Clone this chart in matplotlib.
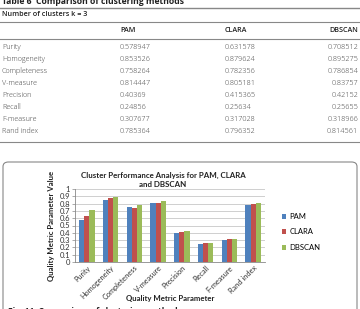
import matplotlib
matplotlib.use("Agg")
import matplotlib.pyplot as plt
import numpy as np
from matplotlib.patches import FancyBboxPatch
from matplotlib.lines import Line2D

# ---- data ----
metrics = ["Purity", "Homogeneity", "Completeness", "V-measure", "Precision",
           "Recall", "F-measure", "Rand index"]
methods = ["PAM", "CLARA", "DBSCAN"]
table_pam = ["0.578947", "0.853526", "0.758264", "0.814447", "0.40369", "0.24856", "0.307677", "0.785364"]
table_clara = ["0.631578", "0.879624", "0.782356", "0.805181", "0.415365", "0.25634", "0.317028", "0.796352"]
table_dbscan = ["0.708512", "0.895275", "0.786854", "0.83757", "0.42152", "0.25655", "0.318966", "0.814561"]
chart_pam = [0.579, 0.854, 0.758, 0.814, 0.404, 0.249, 0.308, 0.785]
chart_clara = [0.632, 0.880, 0.742, 0.805, 0.415, 0.256, 0.317, 0.796]
chart_dbscan = [0.709, 0.895, 0.787, 0.838, 0.422, 0.257, 0.319, 0.815]
yticks = [0, 0.1, 0.2, 0.3, 0.4, 0.5, 0.6, 0.7, 0.8, 0.9, 1]
ytick_labels = ["0", "0.1", "0.2", "0.3", "0.4", "0.5", "0.6", "0.7", "0.8", "0.9", "1"]
colors = ["#4F81BD", "#C0504D", "#9BBB59"]

W, H = 360, 309
fig = plt.figure(figsize=(W / 100, H / 100), dpi=100)

def fy(y):
    return 1 - y / H

def fx(x):
    return x / W

tfont = "Open Sans"
tcol = "#444444"
# ---- table ----
fig.text(fx(2), fy(1), "Table 6  Comparison of clustering methods", fontsize=6.2,
         fontweight="bold", family=tfont, color="#222222", va="center", ha="left")
for yy, lw in [(8, 1.0), (22, 0.8), (39, 0.8), (142, 0.8)]:
    fig.add_artist(Line2D([0, 1], [fy(yy), fy(yy)], transform=fig.transFigure,
                          color="#888888", lw=lw))
fig.text(fx(2), fy(15), "Number of clusters k = 3", fontsize=5.2, family=tfont,
         color="#222222", va="center", ha="left", fontweight="semibold")
hx = [120, 225, 358]
has = ["left", "left", "right"]
for m, x, ha in zip(methods, hx, has):
    fig.text(fx(x), fy(31), m, fontsize=5.2, family=tfont, color="#222222",
             va="center", ha=ha, fontweight="semibold")
row_y = [47, 59, 71, 83, 95, 107, 119, 131]
for i, name in enumerate(metrics):
    y = row_y[i]
    fig.text(fx(2), fy(y), name, fontsize=5.2, family=tfont, color=tcol, va="center", ha="left", fontweight="light")
    fig.text(fx(120), fy(y), table_pam[i], fontsize=5.2, family=tfont, color=tcol, va="center", ha="left", fontweight="light")
    fig.text(fx(225), fy(y), table_clara[i], fontsize=5.2, family=tfont, color=tcol, va="center", ha="left", fontweight="light")
    fig.text(fx(358), fy(y), table_dbscan[i], fontsize=5.2, family=tfont, color=tcol, va="center", ha="right", fontweight="light")

# ---- chart box ----
box = FancyBboxPatch((fx(3), fy(330)), fx(354), (330 - 162) / H,
                     boxstyle="round,pad=0,rounding_size=0.015",
                     transform=fig.transFigure, fill=False, ec="#888888", lw=0.8)
fig.add_artist(box)

cfont = "Lato"
ax = fig.add_axes([fx(75), fy(262), fx(265) - fx(75), (262 - 189) / H])
x = np.arange(len(metrics))
bw = 0.22
for j, (vals, c, lab) in enumerate(zip([chart_pam, chart_clara, chart_dbscan], colors, methods)):
    ax.bar(x + (j - 1) * bw, vals, bw, color=c, label=lab, zorder=3)
ax.set_xlim(-0.5, len(metrics) - 0.5)
ax.set_ylim(0, 1)
ax.set_yticks(yticks)
ax.set_yticklabels(ytick_labels, family=cfont, fontsize=5.5, color="#333333")
ax.yaxis.grid(True, color="#C8C8C8", lw=0.6, zorder=0)
ax.set_xticks(x)
ax.set_xticklabels(metrics, rotation=45, ha="right", rotation_mode="anchor",
                   family=cfont, fontsize=5.3, color="#333333")
for s in ["top", "right"]:
    ax.spines[s].set_visible(False)
ax.spines["left"].set_color("#888888")
ax.spines["bottom"].set_color("#888888")
ax.spines["left"].set_linewidth(0.6)
ax.spines["bottom"].set_linewidth(0.6)
ax.tick_params(axis="both", length=2, width=0.5, color="#888888", pad=1.5)
ax.tick_params(axis="x", length=0)
ax.set_ylabel("Quality Metric Parameter Value", family=cfont, fontweight="bold",
              fontsize=5.6, color="#222222", labelpad=3)
fig.text(fx(170), fy(298), "Quality Metric Parameter", family=cfont, fontweight="bold",
         fontsize=5.6, color="#222222", ha="center", va="center")
fig.text(fx(163), fy(180), "Cluster Performance Analysis for PAM, CLARA\nand DBSCAN",
         family=cfont, fontweight="bold", fontsize=5.7, color="#222222",
         ha="center", va="center", linespacing=1.45)
ax.legend(loc="center left", bbox_to_anchor=(fx(278), fy(232)),
          bbox_transform=fig.transFigure, frameon=False,
          prop={"family": cfont, "size": 5.5}, handlelength=0.6, handleheight=0.6,
          handletextpad=0.4, labelspacing=1.1, borderpad=0)

fig.text(fx(8), fy(312), "Fig. 11  Comparison of clustering methods", fontsize=6,
         family=tfont, color="#222222", va="center", ha="left", fontweight="bold")

fig.savefig("out.png", dpi=100)
